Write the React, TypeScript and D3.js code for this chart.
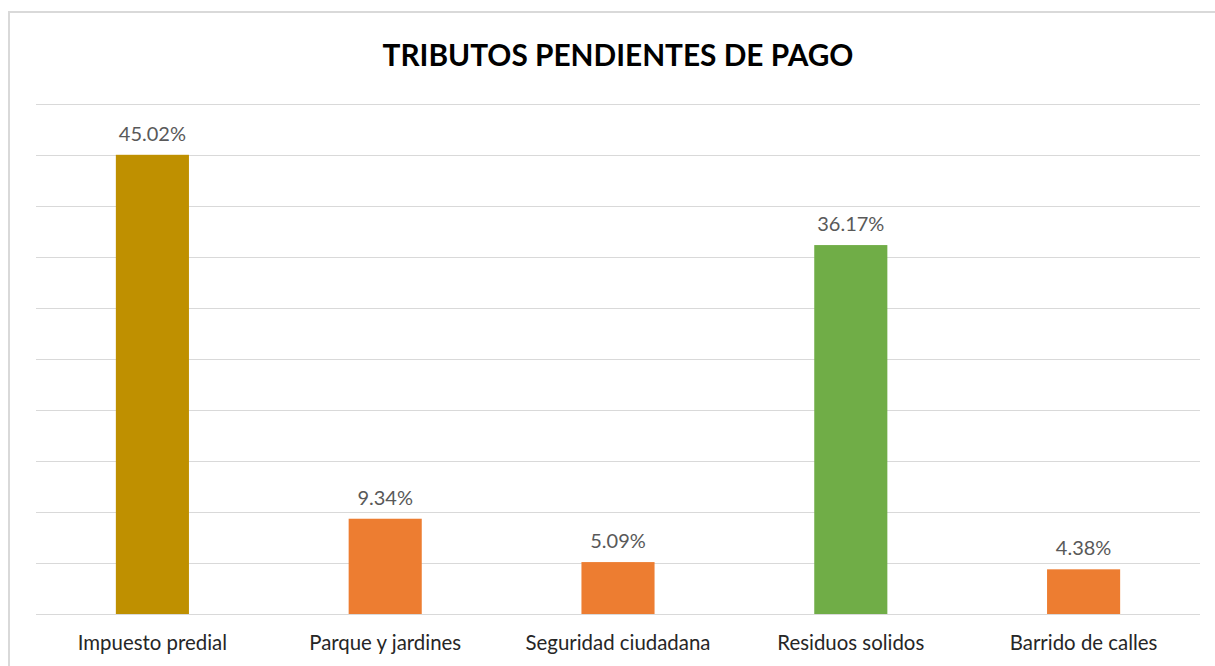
import React from "react";
import * as d3 from "d3";

const categories = ["Impuesto predial", "Parque y jardines", "Seguridad ciudadana", "Residuos solidos", "Barrido de calles"];
const values = [45.02, 9.34, 5.09, 36.17, 4.38];
const barColors = ["#BF9000", "#ED7D31", "#ED7D31", "#70AD47", "#ED7D31"];
const yTicks = [0, 5, 10, 15, 20, 25, 30, 35, 40, 45, 50];
const title = "TRIBUTOS PENDIENTES DE PAGO";

const W = 1215;
const H = 666;
const plot = { left: 36, right: 1200, top: 104, bottom: 614 };
const font = "Lato, 'Open Sans', 'Liberation Sans', sans-serif";

export default function App() {
  const x = d3
    .scaleBand<string>()
    .domain(categories)
    .range([plot.left, plot.right])
    .paddingInner(0.686)
    .paddingOuter(0.343);
  const y = d3.scaleLinear().domain([0, 50]).range([plot.bottom, plot.top]);

  return (
    <div style={{ position: "fixed", left: 0, top: 0, width: W, height: H, background: "#fff" }}>
      <svg width={W} height={H} style={{ display: "block" }}>
        <rect x={0} y={0} width={W} height={H} fill="#fff" />
        <rect x={9} y={12} width={W + 20} height={H + 20} fill="none" stroke="#d9d9d9" strokeWidth={2} />
        <text
          x={618}
          y={66}
          textAnchor="middle"
          fontFamily={font}
          fontWeight="bold"
          fontSize={29.8}
          fill="#000"
        >
          {title}
        </text>
        {yTicks.map((t) => (
          <line
            key={t}
            x1={plot.left}
            x2={plot.right}
            y1={Math.round(y(t)) + 0.5}
            y2={Math.round(y(t)) + 0.5}
            stroke="#d9d9d9"
            strokeWidth={1}
          />
        ))}
        {categories.map((c, i) => (
          <g key={c}>
            <rect
              x={x(c)}
              y={y(values[i])}
              width={x.bandwidth()}
              height={y(0) - y(values[i])}
              fill={barColors[i]}
            />
            <text
              x={(x(c) as number) + x.bandwidth() / 2}
              y={y(values[i]) - 14}
              textAnchor="middle"
              fontFamily={font}
              fontSize={20}
              fill="#595959"
            >
              {values[i].toFixed(2) + "%"}
            </text>
            <text
              x={(x(c) as number) + x.bandwidth() / 2}
              y={650}
              textAnchor="middle"
              fontFamily={font}
              fontSize={20.4}
              fill="#262626"
            >
              {c}
            </text>
          </g>
        ))}
      </svg>
    </div>
  );
}
